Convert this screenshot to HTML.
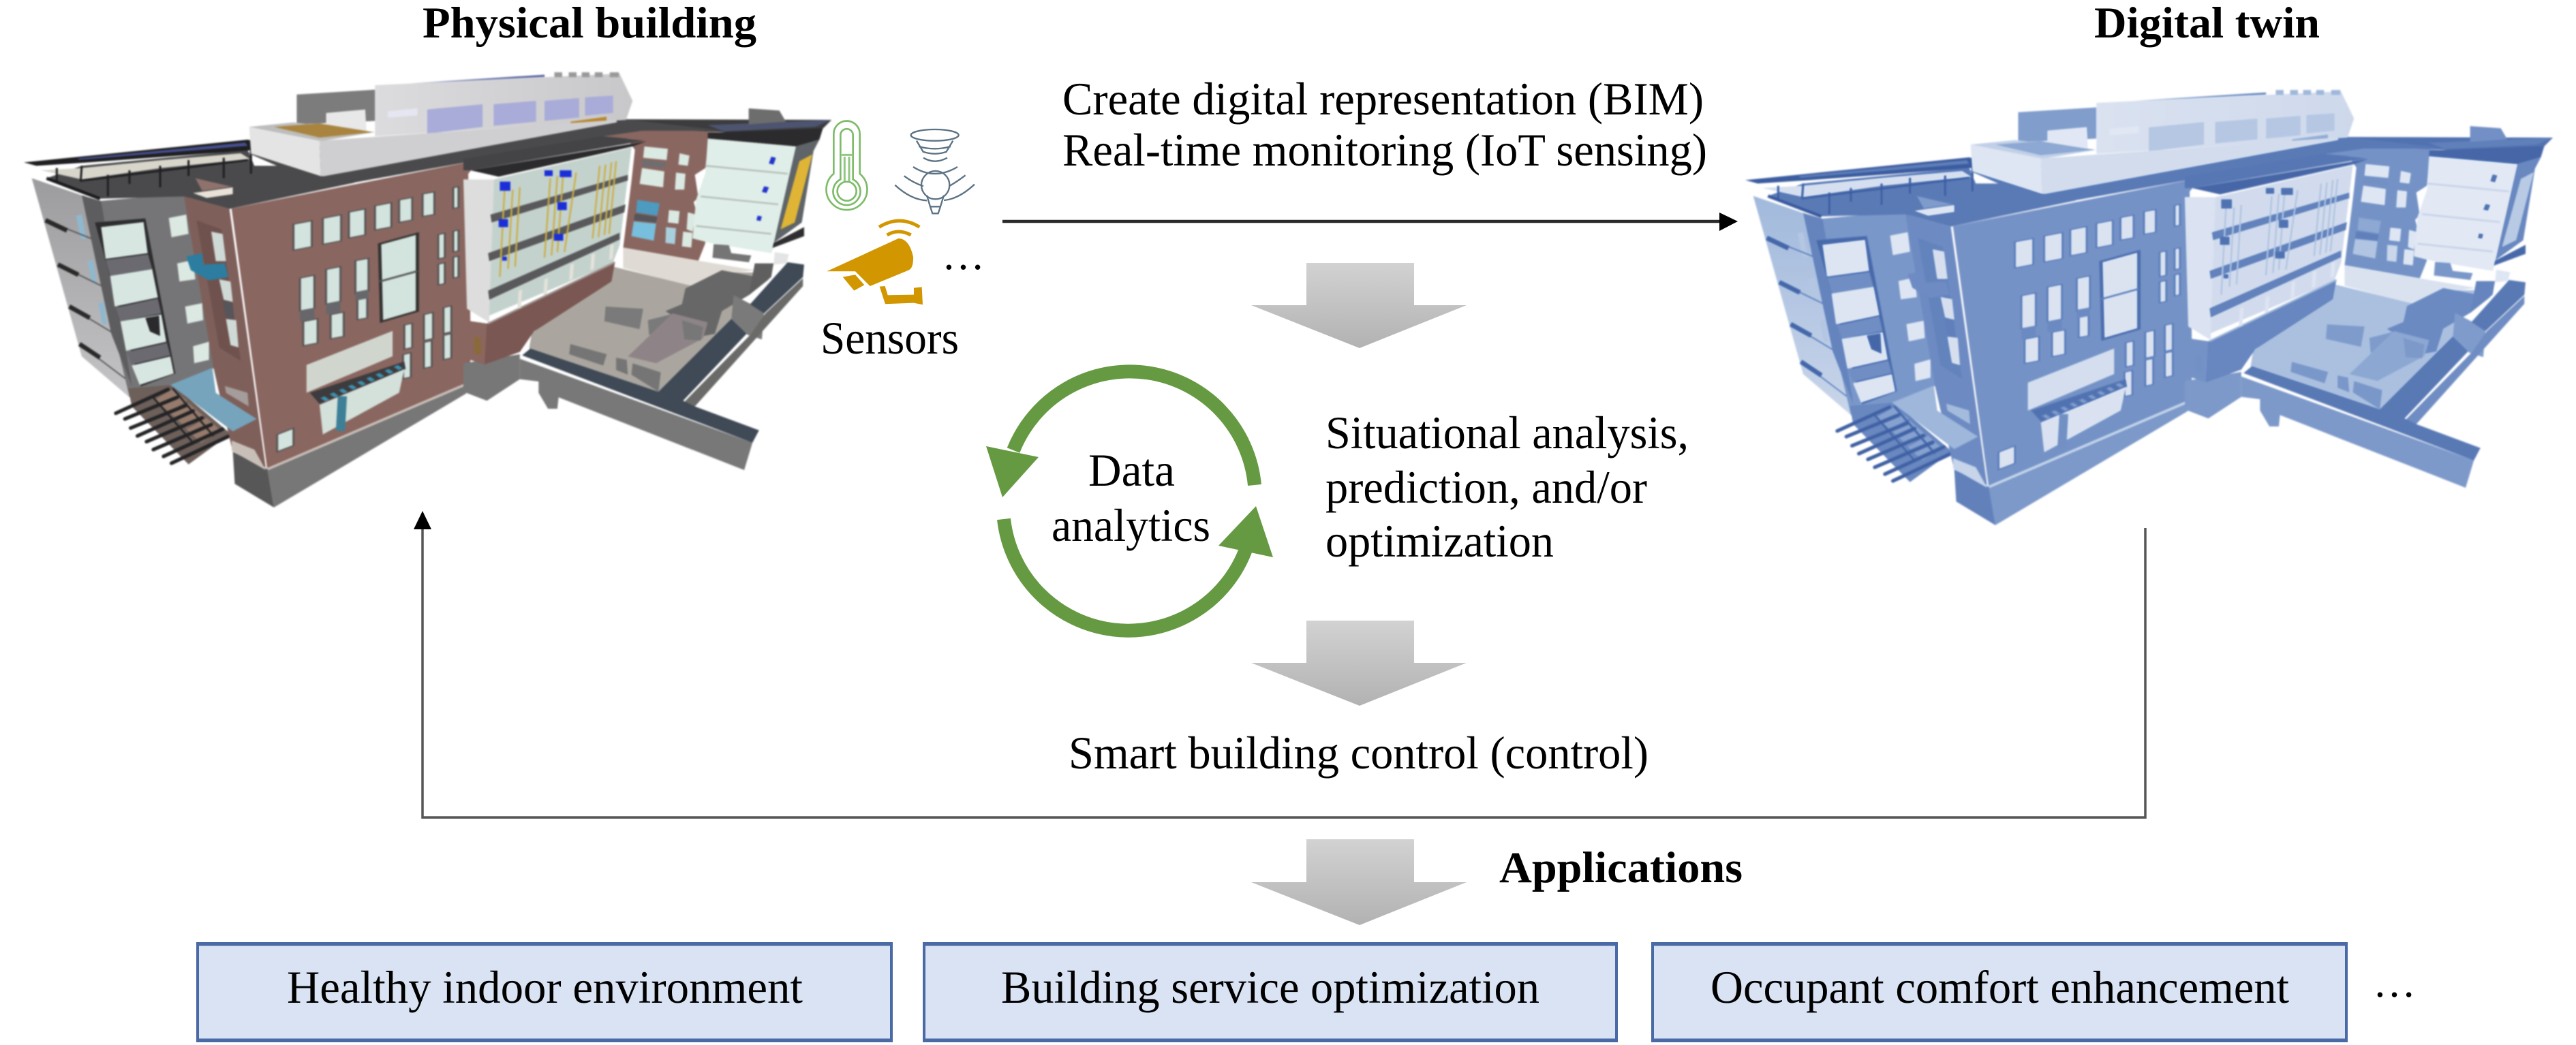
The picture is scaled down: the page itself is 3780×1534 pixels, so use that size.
<!DOCTYPE html>
<html lang="en"><head><meta charset="utf-8"><title>Digital twin diagram</title>
<style>
html,body{margin:0;padding:0;background:#fff}
svg{display:block}
text{font-family:"Liberation Serif",serif;fill:#000;font-size:68px}
.b{font-weight:bold;font-size:65px}
</style></head><body>
<svg xmlns="http://www.w3.org/2000/svg" width="3780" height="1534" viewBox="0 0 3780 1534">
<defs>
<linearGradient id="ga" x1="0" y1="0" x2="0" y2="1"><stop offset="0" stop-color="#d2d2d2"/><stop offset="1" stop-color="#b2b2b2"/></linearGradient>
<linearGradient id="pent" x1="0" y1="0" x2="1" y2="0"><stop offset="0" stop-color="#dcdcde"/><stop offset="1" stop-color="#c8c8ca"/></linearGradient>
<linearGradient id="lf" x1="0" y1="0" x2="0" y2="1"><stop offset="0" stop-color="#9c9c9e"/><stop offset="1" stop-color="#c4c4c6"/></linearGradient>
<filter id="soft" x="-5%" y="-5%" width="110%" height="110%" color-interpolation-filters="sRGB"><feGaussianBlur stdDeviation="1.1"/></filter>
<filter id="blue" x="-5%" y="-5%" width="110%" height="110%" color-interpolation-filters="sRGB">
<feGaussianBlur stdDeviation="1.1"/>
<feColorMatrix type="matrix" values=".3 .59 .11 0 0 .3 .59 .11 0 0 .3 .59 .11 0 0 0 0 0 1 0"/>
<feComponentTransfer>
<feFuncR type="table" tableValues="0.14 0.30 0.42 0.62 0.82 0.94"/>
<feFuncG type="table" tableValues="0.26 0.43 0.54 0.72 0.86 0.95"/>
<feFuncB type="table" tableValues="0.54 0.68 0.76 0.86 0.93 0.98"/>
</feComponentTransfer>
</filter>
<g id="bld">
 <!-- LEFT WING (crop-B coordinates) -->
 <g transform="translate(20,200) scale(.3333)">
  <polygon points="80,185 300,260 510,1150 300,970" fill="url(#lf)"/>
  <path d="M275 350l25-5 20 110-25-5zM325 550l25-5 15 100-22-5zM372 735l25-5 15 100-22-5z" fill="#8fb8cf"/>
  <path d="M140 370L390 470M195 565L430 680M245 750L460 880M290 915L495 1070" stroke="#4c4c4e" stroke-width="5" fill="none"/>
  <path d="M140 370l95 45M195 565l90 45M245 750l90 50M290 915l90 60" stroke="#2a2a2a" stroke-width="20" fill="none"/>
  <polygon points="300,260 380,285 770,250 885,1020 690,1100 510,1150" fill="#757577"/>
  <polygon points="300,260 385,285 520,1100 430,870" fill="#5d5d60"/>
  <polygon points="358,380 580,362 712,1045 560,1102" fill="#2d2d2f"/>
  <path d="M385 400L572 378 590 515 405 540zM425 615L610 585 635 710 445 750zM470 815L650 785 672 905 495 945zM520 1010L690 970 705 1045 555 1095z" fill="#d8e6e1"/>
  <path d="M405 545L592 520 610 585 425 615zM450 755L635 715 650 780 470 815zM497 950L675 910 690 965 520 1005z" fill="#6a6a70"/>
  <polygon points="580,800 640,790 645,880 600,860" fill="#2a2a2c"/>
  <path d="M683 360l77-15 10 85-75 15zM720 560l70-15 10 85-70 10zM755 750l75-15 5 75-70 15zM790 925l70-20v80l-65 15z" fill="#dce8e2"/>
  <polygon points="145,185 380,275 750,265 950,320 1500,205 1500,130 1060,130 1030,60 300,130" fill="#4a4a4c"/>
  <path d="M120 150L300 140 650 105 1000 75 1040 100 650 140 300 190Z" fill="#d8d5cb"/>
  <path d="M190 140v60M300 130l-5 70M415 170v95M510 150v60M645 130v95M770 105v70M925 95v90M1045 60v105M300 195L1030 105" stroke="#1f1f21" stroke-width="9" fill="none"/>
  <polygon points="45,115 1030,15 1160,42 1040,62 330,115 100,130" fill="#1f1f21"/>
  <polygon points="280,98 1020,28 1030,42 290,104" fill="#454f90"/>
  <path d="M145 185L380 275" stroke="#1c1c1e" stroke-width="14"/>
  <!-- pergola -->
  <polygon points="505,1110 700,1095 955,1310 770,1445 520,1190" fill="#6d5f5a"/>
  <path d="M620 1160l80-45 65 50-80 50zM690 1220l80-45 70 60-80 50zM760 1290l90-50 60 55-85 55z" fill="#967a6c"/>
  <path d="M450 1220L680 1115M490 1245L720 1150M515 1285L760 1185M545 1320L790 1210M585 1345L830 1240M615 1380L870 1270M660 1410L920 1290M695 1440L950 1320" stroke="#242426" stroke-width="16" stroke-linecap="round" fill="none"/>
  <path d="M610 1145L790 1350M700 1110L880 1320" stroke="#242426" stroke-width="8" fill="none"/>
 </g>
 <!-- UPPER PART (old coords) -->
 <g transform="scale(0.957,0.5102)">
  <polygon points="945,343 1275,345 1250,392 1110,380 985,372" fill="#3c3c3e"/>
  <polygon points="925,385 985,366 1112,382 1112,405 925,405" fill="#8a6660"/>
  <polygon points="380,440 945,340 1110,376 985,376 925,392 970,400 720,490 735,460 500,540" fill="#4a4a4c"/>
  <polygon points="1085,360 1275,345 1250,365 1110,378" fill="#4c5470"/>
  <polygon points="1148,312 1195,318 1205,350 1148,358" fill="#6d6d6d"/>
  <polygon points="455,272 575,258 575,348 455,358" fill="#7c7c7c"/>
  <polygon points="500,325 560,315 562,378 500,368" fill="#e8e8e8"/>
  <polygon points="575,245 950,212 970,290 960,345 575,392" fill="url(#pent)"/>
  <polygon points="630,240 835,215 835,221 630,240" fill="#4a5a9a"/>
  <path d="M850 208h12v14h-12zM872 208h12v14h-12zM892 208h12v14h-12zM912 208h12v14h-12zM935 208h14v14h-14z" fill="#999"/>
  <path d="M655 315l85-15v65l-85 20zM757 300l65-10v60l-65 12zM835 290l53-8v56l-53 10zM897 280l43-5v50l-43 8z" fill="#a9acd8"/>
  <polygon points="595,320 640,312 640,332 595,338" fill="#e6e6f2"/>
  <polygon points="875,350 930,336 930,347 875,361" fill="#b8862d"/>
  <polygon points="382,365 450,352 575,380 490,407" fill="#bdbdbd"/>
  <polygon points="420,365 490,355 572,380 490,396" fill="#a9843f"/>
  <polygon points="382,365 490,405 492,507 385,442" fill="#e4e4e4"/>
  <polygon points="490,405 945,345 946,352 497,507 492,507" fill="#cfcfd1"/>
  <!-- base -->
  <polygon points="357,1300 410,1350 420,1460 360,1392" fill="#575758"/>
  <polygon points="410,1350 715,1100 715,1132 420,1460" fill="#777"/>
  <!-- main brick -->
  <polygon points="355,600 735,460 718,500 722,1030 715,1105 410,1352" fill="#8a6660"/>
  <path d="M410 1350L715 1105" stroke="#c8bfb8" stroke-width="6"/>
  <g fill="#d3e3de" stroke="#555" stroke-width="3">
    <path d="M450 645l28-10v75l-28 10zM495 628l28-10v75l-28 10zM535 610l25-9v75l-25 9zM575 592l25-9v70l-25 9zM612 575l20-7v65l-20 7zM648 558l18-6v65l-18 6zM695 540l8-3v60l-8 3z"/>
    <path d="M460 800l22-8v95l-22 8zM500 775l22-8v100l-22 8zM545 750l20-7v95l-20 7zM465 925l22-8v70l-22 8zM507 905l20-7v70l-20 7zM548 860l15-5v60l-15 5z"/>
    <path d="M672 675l10-4v70l-10 4zM695 665l8-3v60l-8 3zM672 760l10-4v60l-10 4zM695 740l8-3v60l-8 3z"/>
    <path d="M620 935l12-5v70l-12 5zM650 905l14-6v75l-14 6zM680 885l12-5v75l-12 5zM618 1020l12-5v70l-12 5zM650 985l12-5v75l-12 5zM680 965l12-5v70l-12 5zM425 1250l25-18v50l-25 18z"/>
  </g>
  <path d="M460 895l22-8v30l-22 8zM500 875l22-8v30l-22 8zM545 840l20-7v25l-20 7z" fill="#67676b"/>
  <polygon points="582,702 640,672 640,895 585,925" fill="#d3e3de" stroke="#333" stroke-width="5"/>
  <path d="M582 810l58-30" stroke="#555" stroke-width="5"/>
  <polygon points="470,1050 602,952 602,1025 470,1130" fill="#d0d6ce"/>
  <polygon points="475,1130 620,1040 622,1062 490,1162" fill="#3c3c3e"/>
  <polygon points="490,1165 620,1062 612,1130 495,1250" fill="#d4e0da"/>
  <path d="M495 1150l125-100" stroke="#3d8fb0" stroke-width="12" stroke-dasharray="8 10"/>
  <path d="M525 1140l-3 100" stroke="#3d7f96" stroke-width="14"/>
 </g>
 <!-- brick left face and canopy (crop-B coords) -->
 <g transform="translate(20,200) scale(.3333)">
  <polygon points="750,265 950,320 1110,1460 960,1370 880,1020" fill="#7f5f5a"/>
  <polygon points="805,370 915,410 1000,990 905,930" fill="#6f524e"/>
  <path d="M870 420l50 10 15 120-45 0zM905 630l50 10 10 90-40-10zM935 805l45 5 10 120-35-10z" fill="#cfdad6"/>
  <polygon points="920,725 965,735 970,805 935,800" fill="#55555a"/>
  <polygon points="790,250 965,225 965,255 850,272" fill="#e8e2d8"/>
  <polygon points="800,185 960,222 830,240" fill="#8f726c"/>
  <polygon points="760,530 830,515 835,565 930,560 945,620 860,635 780,590" fill="#2c7da0"/>
  <polygon points="930,1100 1030,1130 1035,1190 935,1130" fill="#a59d9b"/>
  <polygon points="690,1095 875,1020 890,1130 1070,1245 965,1300" fill="#76a4bc"/>
  <polygon points="960,1340 1060,1380 1110,1470 960,1385" fill="#c8c0b8"/>
 </g>
 <!-- COURTYARD + BLOCKS (crop-A coords) -->
 <g transform="translate(680,200) scale(.3448,.3333)">
  <polygon points="0,1000 240,960 240,1070 100,1165 0,1125" fill="#777"/>
  <!-- back brick -->
  <polygon points="690,0 1045,0 1030,140 985,170 1000,270 980,290 1030,470 1000,548 680,490 715,200 730,60" fill="#8a6660"/>
  <g fill="#dbe9e3">
    <path d="M770 45l100 10-5 50-100-10zM760 140l95 15-5 70-100-15zM920 75l42 10-7 45-40-5zM905 160l40 5-5 70-40 0zM875 325l45 5-5 55-45-5zM955 335l35 10-15 75-25-10zM935 420l40 5-5 65-40-5z"/>
  </g>
  <path d="M760 105l102 10-2 25-100-10z" fill="#6e6e70"/>
  <path d="M740 280l95 15-10 55-90-15z" fill="#4d9bc0"/>
  <path d="M730 340l95 15-5 25-95-10z" fill="#55555a"/>
  <path d="M725 375l95 10-10 75-95-20z" fill="#78bedd"/>
  <path d="M862 400l43 5-5 70-40-5z" fill="#a8d0dc"/>
  <!-- right block -->
  <polygon points="1040,-15 1530,-35 1515,15 1415,45 1040,10" fill="#2b2b2d"/>
  <polygon points="1415,45 1515,15 1490,65 1440,380 1320,470 1310,520" fill="#5e6468"/>
  <polygon points="1430,110 1485,80 1410,380 1350,410" fill="#e0b536"/>
  <polygon points="1320,470 1450,400 1450,440 1315,492" fill="#2e2e30"/>
  <polygon points="1040,10 1415,45 1310,515 1050,470 975,450 990,280 1030,160" fill="#dfeee8"/>
  <path d="M1030 130L1380 165M1010 265L1340 300M990 395L1310 430" stroke="#b4bcb8" stroke-width="7" fill="none"/>
  <path d="M1310 90l20 5-10 30-20-5zM1280 220l20 5-10 25-20-5zM1252 350l18 3-5 20-18-3z" fill="#2233cc"/>
  <polygon points="1065,475 1130,480 1140,515 1225,525 1215,555 1060,535" fill="#757575"/>
  <!-- courtyard -->
  <polygon points="680,490 1000,548 1240,590 1100,610 975,665 680,580" fill="#dfdbd4"/>
  <polygon points="640,575 975,660 1100,600 1240,600 1140,810 830,1125 280,935 290,870" fill="#aaa69f"/>
  <polygon points="1325,510 1385,520 1375,560 1320,565" fill="#e4e4e4"/>
  <polygon points="945,670 1100,590 1300,630 1215,700 1100,770 1070,870 1020,880 860,770 930,740" fill="#676767"/>
  <path d="M605 750l160 10-15 90-150-35zM785 810l95-25 10 75-100 15z" fill="#7a7a7a"/>
  <polygon points="700,970 890,780 1040,820 1020,890 820,1000" fill="#8e8487"/>
  <polygon points="930,810 1020,840 1010,900 940,895" fill="#777"/>
  <path d="M455 915l155 45-15 50-145-50zM650 975l45 10 5 65-50-20zM720 1000l120 40-10 85-115-75z" fill="#757575"/>
  <polygon points="1150,700 1280,770 1270,895 1210,875 1140,810" fill="#7a7a7a"/>
  <polygon points="1240,560 1320,560 1310,620 1215,700" fill="#5f5f5f"/>
  <!-- dark retaining wall -->
  <polygon points="240,980 1230,1350 1195,1470 405,1150 400,1200 360,1200 320,1130 320,1080 240,1070" fill="#787878"/>
  <polygon points="940,1170 1225,870 1285,780 1445,625 1445,660 985,1190" fill="#6a6a68"/>
  <polygon points="250,965 285,935 830,1125 1140,805 1205,870 935,1165 985,1190 1258,1295 1230,1350" fill="#3f4a56"/>
  <polygon points="1220,740 1380,555 1450,565 1445,620 1280,780" fill="#3f4a56"/>
  <!-- central glazed block -->
  <polygon points="0,190 130,190 110,820 15,760" fill="#dcdddc"/>
  <polygon points="130,190 715,50 665,480 635,560 110,790" fill="#c4d2cd"/>
  <polygon points="0,810 100,825 645,555 630,640 300,860 240,950 90,1005 0,975" fill="#7a5752"/>
  <polygon points="0,810 100,825 90,1005 0,975" fill="#8a6660"/>
  <polygon points="45,880 75,890 75,965 45,955" fill="#8a6a3a"/>
  <path d="M105 825L645 555" stroke="#a09490" stroke-width="8"/>
  <polygon points="115,345 700,170 700,195 120,380" fill="#59595c"/>
  <polygon points="105,515 690,300 685,335 110,550" fill="#59595c"/>
  <polygon points="105,680 665,425 665,455 110,720" fill="#59595c"/>
  <path d="M235 680l15-5-5 80-15 5zM345 630l15-5-5 70-15 5zM455 565l15-5-5 70-15 5zM545 520l15-5-5 70-15 5zM625 480l15-5-5 65-15 5z" fill="#e4e2da"/>
  <path d="M175 240l-20 380M210 235l-20 350M240 225l-20 350M370 185l-25 350M400 175l-25 350M425 160l-25 350M480 160l-50 350M580 130l-30 320M605 125l-30 320M630 115l-30 320M650 110l-30 320" stroke="#c9ae46" stroke-width="7" fill="none"/>
  <path d="M155 200h45v40h-45zM345 150h35v25h-35zM410 150h50v30h-50zM400 290h40v35h-40zM150 365h40v35h-40zM385 430h40v30h-40zM165 530h20v18h-20z" fill="#1a2fd8"/>
  <polygon points="0,100 590,0 770,20 30,150 0,150" fill="#444446"/>
  <polygon points="30,150 780,22 720,45 150,178" fill="#2b2b2d"/>
 </g>
</g>
</defs>

<use href="#bld" filter="url(#soft)"/>
<use href="#bld" transform="translate(2526,26)" filter="url(#blue)"/>

<!-- sensors -->
<g transform="translate(1180,150) scale(0.3333)" fill="none" filter="url(#soft)">
  <path d="M130 315V140a57 57 0 0 1 115 0V315A90 90 0 1 1 130 315Z" stroke="#7dbb6a" stroke-width="8"/>
  <path d="M160 340V145a27 27 0 0 1 55 0V340A60 60 0 1 1 160 340Z" stroke="#7dbb6a" stroke-width="8"/>
  <path d="M178 240v110M198 240v110M165 232h45" stroke="#93c883" stroke-width="9"/>
  <circle cx="188" cy="392" r="42" stroke="#7dbb6a" stroke-width="8"/>
  <g stroke="#5b7284" stroke-width="7">
    <ellipse cx="575" cy="145" rx="105" ry="25"/>
    <path d="M495 170l30 50M655 170l-30 50M505 195q70 20 140 0M522 218q55 18 106 0M525 245q50 30 105 0"/>
    <circle cx="578" cy="365" r="62"/>
    <path d="M540 410l15 50h45l15-50M555 460l10 30h25l10-30M480 285q95 60 195 0M440 325q40 30 85 45M710 322q-40 30 -72 48M400 365q70 65 140 68M750 362q-70 65 -135 70"/>
  </g>
  <g fill="#d29600" stroke="none">
    <path d="M100 745L415 600Q462 600 480 680Q482 730 460 740L290 810L225 745Z"/>
    <path d="M170 770l55-10 40 45-45 25z"/>
    <path d="M332 812l24-2 12 40 115-2v-30l35-4 4 78-40-8-125 5z"/>
  </g>
  <path d="M330 550q90-55 178 0M365 585q50-30 105 0" stroke="#d29600" stroke-width="15"/>
</g>

<!-- main arrow -->
<path d="M1471 325H2526" stroke="#2a2a2a" stroke-width="4.5" fill="none"/>
<polygon points="2523,312 2550,325 2523,339" fill="#000"/>
<!-- feedback -->
<path d="M3148 775V1200H620V776" stroke="#555" stroke-width="3.5" fill="none"/>
<polygon points="620,750 633,777 607,777" fill="#000"/>

<!-- grey block arrows -->
<polygon points="1917,386 2075,386 2075,448 2152,448 1995,511 1836,448 1917,448" fill="url(#ga)"/>
<polygon points="1917,911 2075,911 2075,973 2152,973 1995,1036 1836,973 1917,973" fill="url(#ga)"/>
<polygon points="1917,1232 2075,1232 2075,1295 2152,1295 1995,1358 1836,1295 1917,1295" fill="url(#ga)"/>

<!-- cycle -->
<g fill="#659a42">
  <path d="M1841 712A184 184 0 0 0 1487 661" stroke="#659a42" stroke-width="20" fill="none"/>
  <polygon points="1447,655 1524,671 1471,730"/>
  <path d="M1473 762A184 184 0 0 0 1829 804" stroke="#659a42" stroke-width="20" fill="none"/>
  <polygon points="1843,743 1868,818 1788,801"/>
</g>

<!-- application boxes -->
<g fill="#dae3f3" stroke="#4a6aa5" stroke-width="4">
  <rect x="290" y="1385" width="1018" height="143"/>
  <rect x="1356" y="1385" width="1016" height="143"/>
  <rect x="2425" y="1385" width="1018" height="143"/>
</g>
<path d="M288 1386H1308M288 1527H1308M1354 1386H2372M1354 1527H2372M2423 1386H3443M2423 1527H3443" stroke="#4a6aa5" stroke-width="5"/>

<!-- text -->
<text class="b" x="620" y="55" textLength="490" lengthAdjust="spacingAndGlyphs">Physical building</text>
<text class="b" x="3073" y="55" textLength="331" lengthAdjust="spacingAndGlyphs">Digital twin</text>
<text x="1559" y="168" textLength="941" lengthAdjust="spacingAndGlyphs">Create digital representation (BIM)</text>
<text x="1559" y="243" textLength="946" lengthAdjust="spacingAndGlyphs">Real-time monitoring (IoT sensing)</text>
<text x="1204" y="519" textLength="203" lengthAdjust="spacingAndGlyphs">Sensors</text>
<text x="1382" y="395" style="font-size:63px">…</text>
<text x="1945" y="658" textLength="533" lengthAdjust="spacingAndGlyphs">Situational analysis,</text>
<text x="1945" y="738" textLength="472" lengthAdjust="spacingAndGlyphs">prediction, and/or</text>
<text x="1945" y="817" textLength="335" lengthAdjust="spacingAndGlyphs">optimization</text>
<text x="1597" y="713" textLength="127" lengthAdjust="spacingAndGlyphs">Data</text>
<text x="1543" y="794" textLength="233" lengthAdjust="spacingAndGlyphs">analytics</text>
<text x="1568" y="1128" textLength="851" lengthAdjust="spacingAndGlyphs">Smart building control (control)</text>
<text class="b" x="2200" y="1295" textLength="357" lengthAdjust="spacingAndGlyphs">Applications</text>
<text x="421" y="1472" textLength="757" lengthAdjust="spacingAndGlyphs">Healthy indoor environment</text>
<text x="1469" y="1472" textLength="790" lengthAdjust="spacingAndGlyphs">Building service optimization</text>
<text x="2510" y="1472" textLength="849" lengthAdjust="spacingAndGlyphs">Occupant comfort enhancement</text>
<text x="3482" y="1463" style="font-size:63px">…</text>
</svg>
</body></html>
